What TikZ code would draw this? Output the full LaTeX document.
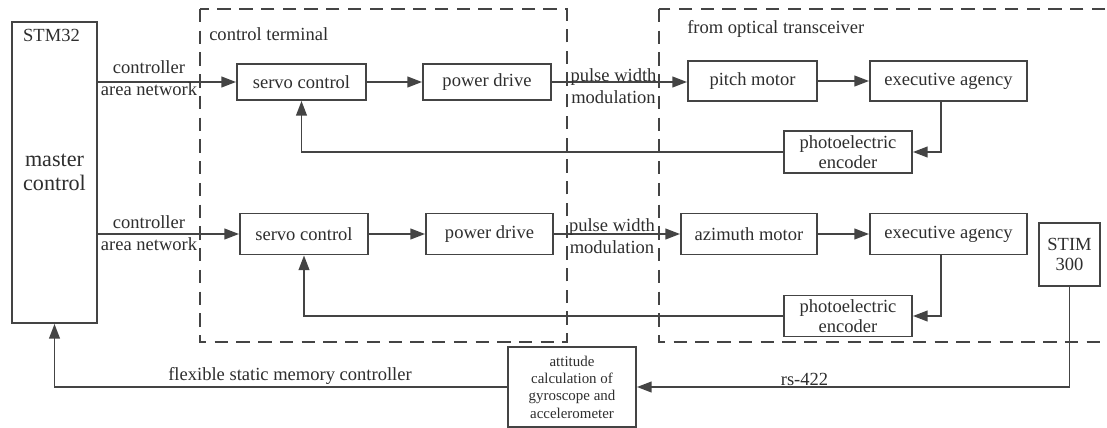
\documentclass[tikz,border=0pt]{standalone}
\usepackage{fontspec}
\setmainfont{Liberation Serif}
\usetikzlibrary{arrows.meta,calc}
\definecolor{ln}{HTML}{444444}
\definecolor{tx}{HTML}{2E2E2E}
\tikzset{
 box/.style={draw=ln, line width=1.4pt, inner sep=0pt, align=center, text=tx, font=\fontsize{13.9}{16.5}\selectfont},
 sz/.style 2 args={minimum width=#1*0.75pt, minimum height=#2*0.75pt},
 arr/.style={draw=ln, line width=1.4pt, -{Triangle[length=11pt,width=8pt]}},
 conn/.style={draw=ln, line width=1.4pt},
 lbl/.style={inner sep=0pt, text=tx, font=\fontsize{13.9}{16.5}\selectfont, align=center},
 region/.style={draw=ln, line width=1.4pt, dash pattern=on 10pt off 6.3pt}
}
\begin{document}
\begin{tikzpicture}[x=0.75pt,y=-0.75pt]
\clip (0,0) rectangle (1107,428);
\fill[white] (0,0) rectangle (1107,428);
% dashed regions
\draw[region] (200,9) rectangle (567,342);
\draw[region] (659,9) rectangle (1125,342);
\node[lbl, anchor=west] (ctl) at (209,34) {control terminal};
\node[lbl, anchor=west] (otl) at (687,29) {from optical transceiver};
% master
\node[box, sz={85}{301}, font=\fontsize{16.6}{17.5}\selectfont] (stm) at (54.5,172.5) {master\\control};
\node[lbl] (stml) at (51.5,35) {STM32};
% row 1
\node[box, sz={129}{36}] (sc1) at (301.5,82) {servo control};
\node[box, sz={128}{36}] (pd1) at (487,82) {power drive};
\node[box, sz={129}{40}] (pm) at (752.5,81) {pitch motor};
\node[box, sz={157}{40}] (ea1) at (948.5,81) {executive agency};
\node[box, sz={128}{42}, font=\fontsize{13.9}{15.5}\selectfont] (pe1) at (848,152) {photoelectric\\encoder};
% row 2
\node[box, sz={128}{41}] (sc2) at (304,234) {servo control};
\node[box, sz={127}{41}] (pd2) at (489.5,234) {power drive};
\node[box, sz={136}{41}] (am) at (749,234) {azimuth motor};
\node[box, sz={157}{41}] (ea2) at (948.5,234) {executive agency};
\node[box, sz={128}{41}, font=\fontsize{13.9}{15.5}\selectfont] (pe2) at (848,316) {photoelectric\\encoder};
\node[box, sz={61}{63}, font=\fontsize{13.9}{15.5}\selectfont] (stim) at (1069.5,254.5) {STIM\\300};
% bottom
\node[box, sz={128}{80}, font=\fontsize{11.2}{13}\selectfont] (att) at (572,387) {attitude\\calculation of\\gyroscope and\\accelerometer};
% connectors row 1
\draw[arr] (stm.east |- sc1.west) -- (sc1.west);
\draw[arr] (sc1.east) -- (pd1.west);
\draw[arr] (pd1.east) -- (pd1.east -| pm.west);
\draw[arr] (pm.east) -- (ea1.west);
\draw[arr] ([xshift=-5.8pt]ea1.south) |- (pe1.east);
\draw[arr] (pe1.west) -| (sc1.south);
% connectors row 2
\draw[arr] (stm.east |- sc2.west) -- (sc2.west);
\draw[arr] (sc2.east) -- (pd2.west);
\draw[arr] (pd2.east) -- (am.west);
\draw[arr] (am.east) -- (ea2.west);
\draw[arr] ([xshift=-5.8pt]ea2.south) |- (pe2.east);
\draw[arr] (pe2.west) -| (sc2.south);
% bottom connectors
\draw[arr] (stim.south) |- (att.east);
\draw[arr] (att.west) -| (stm.south);
% labels
\node[lbl] (can1) at (149,78) {controller\\area network};
\node[lbl] (can2) at (149,233.5) {controller\\area network};
\node[lbl] (pwm1) at (613.5,86) {pulse width\\modulation};
\node[lbl] (pwm2) at (612,236) {pulse width\\modulation};
\node[lbl] (fsmc) at (290,376) {flexible static memory controller};
\node[lbl] (rs) at (804.5,379) {rs-422};
\end{tikzpicture}
\end{document}
